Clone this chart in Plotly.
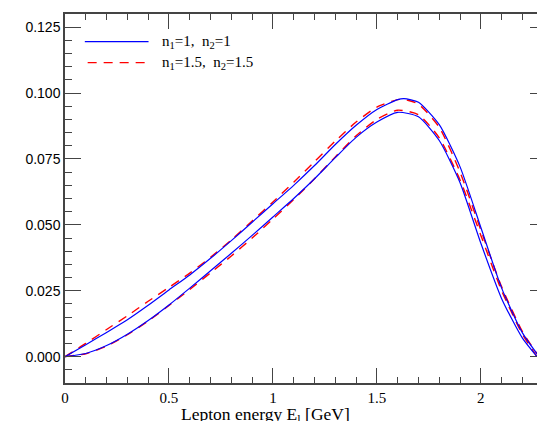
import plotly.graph_objects as go

# Lepton energy grid [GeV]
x_a = [0, 0.1, 0.2, 0.3, 0.4, 0.5, 0.6, 0.7, 0.8, 0.9, 1.0, 1.1, 1.2, 1.3, 1.4, 1.5,
       1.6, 1.63, 1.7, 1.8, 1.9, 2.0, 2.1, 2.2, 2.28]
# n1=1, n2=1 (upper curve)
y_blue_up = [0, 0.0045, 0.0092, 0.0140, 0.0195, 0.0253, 0.0310, 0.0373, 0.0440, 0.0510,
             0.0580, 0.0650, 0.0725, 0.0805, 0.0878, 0.0938, 0.0975, 0.0979, 0.0965, 0.0880,
             0.0720, 0.0490, 0.0260, 0.0090, 0.0]
# n1=1.5, n2=1.5 (upper curve)
y_red_up = [0, 0.0050, 0.0103, 0.0155, 0.0210, 0.0263, 0.0317, 0.0377, 0.0443, 0.0515,
            0.0587, 0.0662, 0.0740, 0.0818, 0.0890, 0.0947, 0.0975, 0.0976, 0.0958, 0.0870,
            0.0700, 0.0480, 0.0265, 0.0095, 0.0]

x_b = [0, 0.1, 0.2, 0.3, 0.4, 0.5, 0.6, 0.7, 0.8, 0.9, 1.0, 1.1, 1.2, 1.3, 1.4, 1.5,
       1.6, 1.7, 1.8, 1.9, 2.0, 2.1, 2.2, 2.27]
# n1=1, n2=1 (lower curve)
y_blue_lo = [0, 0.0012, 0.0042, 0.0085, 0.0137, 0.0196, 0.0260, 0.0326, 0.0392, 0.0460,
             0.0530, 0.0600, 0.0675, 0.0755, 0.0832, 0.0890, 0.0927, 0.0910, 0.0820, 0.0660,
             0.0430, 0.0220, 0.0070, 0.0]
# n1=1.5, n2=1.5 (lower curve)
y_red_lo = [0, 0.0011, 0.0040, 0.0083, 0.0135, 0.0194, 0.0255, 0.0318, 0.0382, 0.0450,
            0.0522, 0.0596, 0.0675, 0.0758, 0.0838, 0.0900, 0.0935, 0.0918, 0.0830, 0.0670,
            0.0460, 0.0250, 0.0085, 0.0]

y_ticks = [0.0, 0.025, 0.05, 0.075, 0.1, 0.125]
y_tick_text = ["0.000", "0.025", "0.050", "0.075", "0.100", "0.125"]
x_ticks = [0, 0.5, 1, 1.5, 2]
x_tick_text = ["0", "0.5", "1", "1.5", "2"]

legend_labels = ["n<sub>1</sub>=1,  n<sub>2</sub>=1", "n<sub>1</sub>=1.5,  n<sub>2</sub>=1.5"]

BLUE = "#0000ff"
RED = "#ff0000"
DASH = "9px,7px"

fig = go.Figure()
fig.add_trace(go.Scatter(x=x_a, y=y_red_up, mode="lines", line=dict(color=RED, width=1.4, dash=DASH, shape="spline", smoothing=0.6), showlegend=False))
fig.add_trace(go.Scatter(x=x_b, y=y_red_lo, mode="lines", line=dict(color=RED, width=1.4, dash=DASH, shape="spline", smoothing=0.6), showlegend=False))
fig.add_trace(go.Scatter(x=x_a, y=y_blue_up, mode="lines", line=dict(color=BLUE, width=1.2, shape="spline", smoothing=0.6), showlegend=False))
fig.add_trace(go.Scatter(x=x_b, y=y_blue_lo, mode="lines", line=dict(color=BLUE, width=1.2, shape="spline", smoothing=0.6), showlegend=False))
# invisible trace carrying the right-hand tick axis
fig.add_trace(go.Scatter(x=[0], y=[0], yaxis="y2", mode="markers", marker=dict(opacity=0),
                         showlegend=False, hoverinfo="skip"))

AX = "#444444"
fig.update_layout(
    width=537, height=421,
    margin=dict(l=65, r=0, t=14, b=38),
    plot_bgcolor="rgba(0,0,0,0)", paper_bgcolor="white",
    showlegend=False,
    xaxis=dict(range=[0, 2.27], tickmode="array", tickvals=x_ticks, ticktext=x_tick_text,
               ticks="inside", ticklen=15, tickwidth=1.3, tickcolor=AX,
               showline=True, linecolor=AX, linewidth=1.5, mirror="ticks",
               showgrid=False, zeroline=False,
               minor=dict(dtick=0.1, tick0=0, ticks="inside", ticklen=6, tickwidth=1.1, tickcolor=AX, showgrid=False),
               tickfont=dict(family="Liberation Serif", size=15, color="black")),
    yaxis=dict(range=[-0.01, 0.13], tickmode="array", tickvals=y_ticks, ticktext=y_tick_text,
               ticks="inside", ticklen=16, tickwidth=1.3, tickcolor=AX,
               showline=True, linecolor=AX, linewidth=1.5, mirror=False,
               showgrid=False, zeroline=False,
               minor=dict(dtick=0.005, tick0=0, ticks="inside", ticklen=7, tickwidth=1.1, tickcolor=AX, showgrid=False),
               tickfont=dict(family="Liberation Sans", size=14, color="black")),
    yaxis2=dict(range=[-0.01, 0.13], overlaying="y", side="right", tickmode="array", tickvals=y_ticks,
                ticks="inside", ticklen=7, tickwidth=1.3, tickcolor=AX,
                showticklabels=False, showline=False, showgrid=False, zeroline=False),
)

# legend drawn manually
legend_y = [0.925, 0.868]
fig.add_shape(type="line", xref="paper", yref="paper", x0=0.042, x1=0.177, y0=legend_y[0], y1=legend_y[0],
              line=dict(color=BLUE, width=1.3))
fig.add_shape(type="line", xref="paper", yref="paper", x0=0.048, x1=0.177, y0=legend_y[1], y1=legend_y[1],
              line=dict(color=RED, width=1.3, dash=DASH))
for ly, lab in zip(legend_y, legend_labels):
    fig.add_annotation(xref="paper", yref="paper", x=0.201, y=ly, text=lab, showarrow=False,
                       xanchor="left", yanchor="middle",
                       font=dict(family="Liberation Serif", size=15, color="black"))

fig.add_annotation(xref="paper", yref="paper", x=0.424, y=-0.088,
                   text="Lepton energy E<sub>l</sub> [GeV]", showarrow=False,
                   xanchor="center", yanchor="middle",
                   font=dict(family="Liberation Serif", size=17.5, color="black"))

fig.write_html("out.html")
